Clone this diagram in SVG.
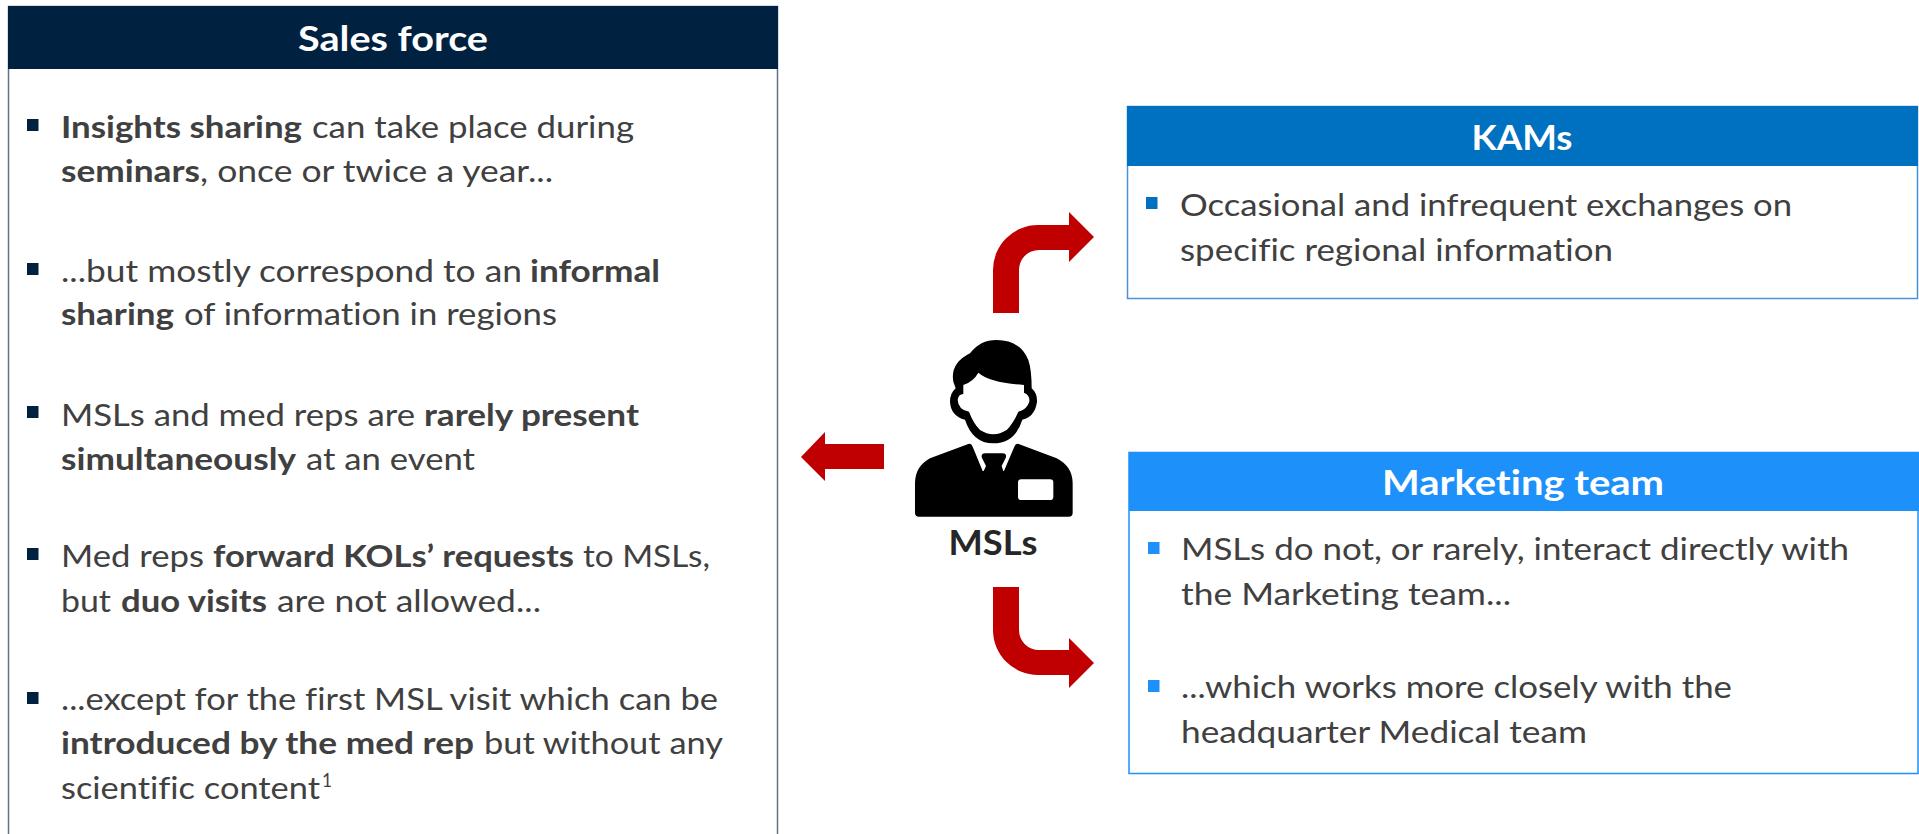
<svg xmlns="http://www.w3.org/2000/svg" width="1919" height="834" viewBox="0 0 1919 834">
<style>
text{font-family:Lato,"Liberation Sans",sans-serif;font-variant-ligatures:none;}
.t{font-size:31px;fill:#404040;}
.b{font-weight:700;}
.h{font-size:35px;font-weight:700;fill:#fff;text-anchor:middle;}
.a{fill:#c00000;}
</style>
<rect width="1919" height="834" fill="#fff"/>
<g id="connectors">
<path id="arrow-kams" class="a" d="M993 313V270A45 45 0 0 1 1038 225H1069V212L1094 237L1069 262V250H1039A20 20 0 0 0 1019 270V313Z"/>
<path id="arrow-marketing" class="a" d="M993 587V630A45 45 0 0 0 1038 675H1069V688L1094 663L1069 638V650H1039A20 20 0 0 1 1019 630V587Z"/>
<path id="arrow-sales" class="a" d="M884 444H825V432L801 457L825 481V469H884Z"/>
</g>
<g id="sales-force">
<rect x="8.5" y="6.5" width="769" height="900" fill="#fff" stroke="#5d738c" stroke-width="1.5"/>
<rect x="8" y="6" width="770" height="63" fill="#002240"/>
<text class="h" x="393" y="51" textLength="190" lengthAdjust="spacingAndGlyphs">Sales force</text>
<g fill="#002240">
<rect x="27" y="119" width="11.500" height="12"/>
<rect x="27" y="263" width="11.500" height="12"/>
<rect x="27" y="406" width="11.500" height="12"/>
<rect x="27" y="548" width="11.500" height="12"/>
<rect x="27" y="692" width="11.500" height="12"/>
</g>
<text class="t" y="138"><tspan class="b" x="61" textLength="241" lengthAdjust="spacingAndGlyphs">Insights sharing</tspan> <tspan x="312" textLength="322" lengthAdjust="spacingAndGlyphs">can take place during</tspan></text>
<text class="t" y="182"><tspan class="b" x="61" textLength="139" lengthAdjust="spacingAndGlyphs">seminars</tspan><tspan x="200" textLength="353" lengthAdjust="spacingAndGlyphs">, once or twice a year...</tspan></text>
<text class="t" y="282"><tspan x="61" textLength="461" lengthAdjust="spacingAndGlyphs">...but mostly correspond to an</tspan> <tspan class="b" x="530" textLength="130" lengthAdjust="spacingAndGlyphs">informal</tspan></text>
<text class="t" y="325"><tspan class="b" x="61" textLength="113" lengthAdjust="spacingAndGlyphs">sharing</tspan> <tspan x="184" textLength="373" lengthAdjust="spacingAndGlyphs">of information in regions</tspan></text>
<text class="t" y="426"><tspan x="61" textLength="354" lengthAdjust="spacingAndGlyphs">MSLs and med reps are</tspan> <tspan class="b" x="424" textLength="215" lengthAdjust="spacingAndGlyphs">rarely present</tspan></text>
<text class="t" y="470"><tspan class="b" x="61" textLength="235" lengthAdjust="spacingAndGlyphs">simultaneously</tspan> <tspan x="306" textLength="169" lengthAdjust="spacingAndGlyphs">at an event</tspan></text>
<text class="t" y="567"><tspan x="61" textLength="143" lengthAdjust="spacingAndGlyphs">Med reps</tspan> <tspan class="b" x="213" textLength="361" lengthAdjust="spacingAndGlyphs">forward KOLs’ requests</tspan> <tspan x="583" textLength="127" lengthAdjust="spacingAndGlyphs">to MSLs,</tspan></text>
<text class="t" y="612"><tspan x="61" textLength="50" lengthAdjust="spacingAndGlyphs">but</tspan> <tspan class="b" x="121" textLength="146" lengthAdjust="spacingAndGlyphs">duo visits</tspan> <tspan x="277" textLength="264" lengthAdjust="spacingAndGlyphs">are not allowed...</tspan></text>
<text class="t" y="710"><tspan x="61" textLength="657" lengthAdjust="spacingAndGlyphs">...except for the first MSL visit which can be</tspan></text>
<text class="t" y="754"><tspan class="b" x="61" textLength="413" lengthAdjust="spacingAndGlyphs">introduced by the med rep</tspan> <tspan x="484" textLength="239" lengthAdjust="spacingAndGlyphs">but without any</tspan></text>
<text class="t" y="799"><tspan x="61" textLength="259" lengthAdjust="spacingAndGlyphs">scientific content</tspan><tspan x="322" y="787" font-size="20" textLength="10" lengthAdjust="spacingAndGlyphs">1</tspan></text>
</g>
<g id="msls">
<g transform="translate(780 190) scale(.33333)">
<path d="M405 968Q405 980 417 980H866Q878 980 878 968V880Q878 830 830 805L716 762Q707 758 703 770L672 843H608L578 770Q574 758 565 762L450 805Q405 830 405 880Z"/>
<path d="M605 802Q603 790 616 790H668Q680 790 678 802L665 828L672 850H608L618 828Z"/>
<rect x="714" y="868" width="106" height="62" rx="10" fill="#fff"/>
<path d="M570 490Q600 450 650 450Q720 450 745 510Q755 540 755 595Q772 610 771 635Q765 680 727 689Q705 760 640 760Q578 760 555 689Q512 678 510 635Q510 610 527 595L520 575Q510 520 570 490Z"/>
<path fill="#fff" d="M595 548Q630 578 732 585V608Q750 615 748 635Q740 660 715 665Q700 700 680 720Q640 745 600 720Q580 700 567 665Q535 660 533 630Q535 612 550 612V585Q580 575 595 548Z"/>
</g>
<text x="993" y="555" font-size="35" font-weight="700" fill="#262626" text-anchor="middle" textLength="89" lengthAdjust="spacingAndGlyphs">MSLs</text>
</g>
<g id="kams">
<rect x="1127.500" y="106.500" width="790" height="192" fill="#fff" stroke="#4a94d6" stroke-width="1.500"/>
<rect x="1127" y="106" width="791" height="60" fill="#0070c0"/>
<text class="h" x="1522" y="150" textLength="101" lengthAdjust="spacingAndGlyphs">KAMs</text>
<rect x="1146" y="197" width="11.500" height="12" fill="#0070c0"/>
<text class="t" y="216"><tspan x="1180" textLength="612" lengthAdjust="spacingAndGlyphs">Occasional and infrequent exchanges on</tspan></text>
<text class="t" y="261"><tspan x="1180" textLength="433" lengthAdjust="spacingAndGlyphs">specific regional information</tspan></text>
</g>
<g id="marketing-team">
<rect x="1129" y="452.500" width="789" height="321" fill="#fff" stroke="#1e90fa" stroke-width="1.500"/>
<rect x="1129" y="452" width="790" height="59" fill="#1e90fa"/>
<text class="h" x="1523" y="495" textLength="282" lengthAdjust="spacingAndGlyphs">Marketing team</text>
<rect x="1148" y="542" width="11.500" height="12" fill="#1e90fa"/>
<rect x="1148" y="680" width="11.500" height="12" fill="#1e90fa"/>
<text class="t" y="560"><tspan x="1181" textLength="668" lengthAdjust="spacingAndGlyphs">MSLs do not, or rarely, interact directly with</tspan></text>
<text class="t" y="605"><tspan x="1181" textLength="330" lengthAdjust="spacingAndGlyphs">the Marketing team...</tspan></text>
<text class="t" y="698"><tspan x="1181" textLength="551" lengthAdjust="spacingAndGlyphs">...which works more closely with the</tspan></text>
<text class="t" y="743"><tspan x="1181" textLength="406" lengthAdjust="spacingAndGlyphs">headquarter Medical team</tspan></text>
</g>
</svg>
